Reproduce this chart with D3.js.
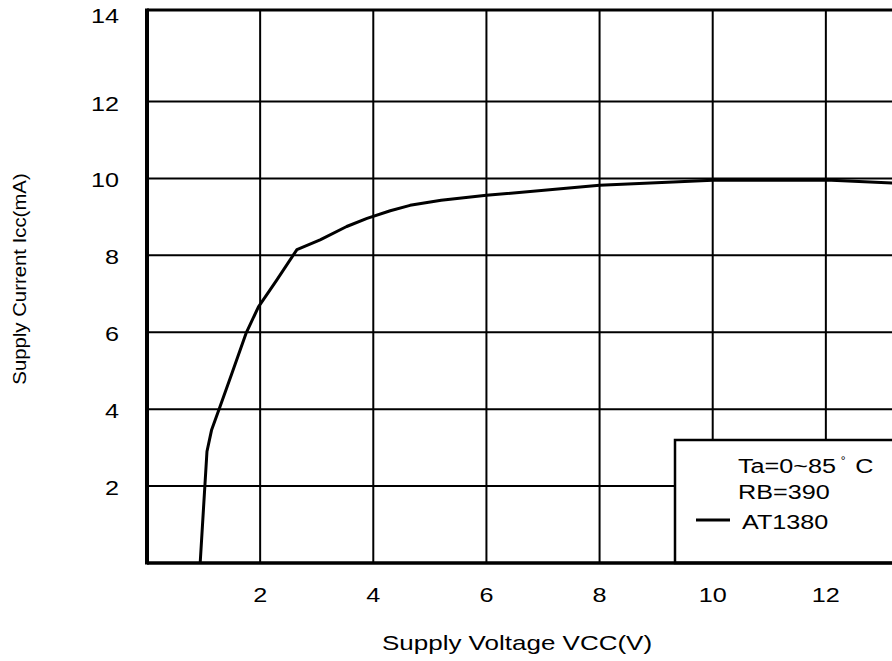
<!DOCTYPE html>
<html>
<head>
<meta charset="utf-8">
<script src="https://cdn.jsdelivr.net/npm/d3@7"></script>
<style>
  body { margin: 0; background: #fff; }
  text { font-family: Arial, "Liberation Sans", sans-serif; fill: #000; }
</style>
</head>
<body>
<script>
// values (AT1380, Ta=0~85 C, RB=390)
var voltage = [0.94, 1.06, 1.14, 1.29, 1.5, 1.75, 1.97, 2.29, 2.65, 3.06, 3.53, 3.89, 4.3, 4.65, 5.2, 6.0, 8.0, 10.0, 12.0, 13.2, 14.0];
var current = [0, 2.9, 3.45, 4.06, 4.93, 5.97, 6.66, 7.35, 8.15, 8.4, 8.75, 8.96, 9.16, 9.3, 9.43, 9.56, 9.82, 9.95, 9.96, 9.88, 9.82];
var xTicks = [2, 4, 6, 8, 10, 12];
var yTicks = [2, 4, 6, 8, 10, 12, 14];
var legendLines = ["Ta=0~85", "RB=390"];
var seriesName = "AT1380";

var svg = d3.select("body")
  .append("svg")
    .attr("width", 892)
    .attr("height", 661);

// the plot runs past the right edge of the picture, like the scan it comes from
var x = d3.scaleLinear().domain([0, 14]).range([147, 939]);
var y = d3.scaleLinear().domain([0, 14]).range([563, 24.6]);
var plotTop = 10;
var stretch = 1.2; // the source lettering is wider than Arial

// grid
svg.append("g")
  .selectAll("line")
    .data(xTicks)
  .enter().append("line")
    .attr("x1", function(d) { return x(d); })
    .attr("x2", function(d) { return x(d); })
    .attr("y1", plotTop)
    .attr("y2", y(0))
    .attr("stroke", "#000")
    .attr("stroke-width", 2);

svg.append("g")
  .selectAll("line")
    .data(yTicks.filter(function(d) { return d < 14; }))
  .enter().append("line")
    .attr("x1", x(0))
    .attr("x2", x(14))
    .attr("y1", function(d) { return y(d); })
    .attr("y2", function(d) { return y(d); })
    .attr("stroke", "#000")
    .attr("stroke-width", 2);

// frame
svg.append("line")
  .attr("x1", x(0)).attr("x2", x(14))
  .attr("y1", plotTop).attr("y2", plotTop)
  .attr("stroke", "#000").attr("stroke-width", 3);
svg.append("line")
  .attr("x1", x(0)).attr("x2", x(0))
  .attr("y1", plotTop - 1.5).attr("y2", y(0) + 1.5)
  .attr("stroke", "#000").attr("stroke-width", 4);

// legend box (drawn before the axis line so the axis sits on top)
svg.append("rect")
  .attr("x", 675)
  .attr("y", 440)
  .attr("width", 300)
  .attr("height", y(0) - 440)
  .attr("fill", "#fff")
  .attr("stroke", "#000")
  .attr("stroke-width", 2.5);

svg.append("line")
  .attr("x1", x(0)).attr("x2", x(14))
  .attr("y1", y(0)).attr("y2", y(0))
  .attr("stroke", "#000").attr("stroke-width", 3.5);

// curve
var pts = voltage.map(function(v, i) { return [v, current[i]]; });
var line = d3.line()
  .x(function(d) { return x(d[0]); })
  .y(function(d) { return y(d[1]); });

svg.append("path")
  .datum(pts)
  .attr("d", line)
  .attr("fill", "none")
  .attr("stroke", "#000")
  .attr("stroke-width", 3)
  .attr("stroke-linejoin", "round");

// tick labels
svg.append("g")
  .selectAll("text")
    .data(xTicks)
  .enter().append("text")
    .attr("transform", function(d) { return "translate(" + x(d) + ",601.5) scale(" + stretch + ",1)"; })
    .attr("text-anchor", "middle")
    .style("font-size", "21px")
    .text(function(d) { return d; });

svg.append("g")
  .selectAll("text")
    .data(yTicks)
  .enter().append("text")
    .attr("transform", function(d) {
      // the top label sits on the frame line, not on y(14)
      var by = d === 14 ? plotTop + 13 : y(d) + 9;
      return "translate(119," + by + ") scale(" + stretch + ",1)";
    })
    .attr("text-anchor", "end")
    .style("font-size", "21px")
    .text(function(d) { return d; });

// axis titles
svg.append("text")
  .attr("transform", "translate(517,650) scale(1.3,1)")
  .attr("text-anchor", "middle")
  .style("font-size", "20px")
  .text("Supply Voltage VCC(V)");

svg.append("text")
  .attr("transform", "translate(26,279) rotate(-90) scale(1.1,1)")
  .attr("text-anchor", "middle")
  .style("font-size", "18.5px")
  .text("Supply Current Icc(mA)");

// legend text
var t1 = svg.append("text")
  .attr("transform", "translate(738,473) scale(" + stretch + ",1)")
  .style("font-size", "21px");
t1.append("tspan").text(legendLines[0]);
t1.append("tspan").attr("dx", 4).attr("dy", -9).style("font-size", "10px").text("\u00b0");
t1.append("tspan").attr("dx", 8).attr("dy", 9).text("C");

svg.append("text")
  .attr("transform", "translate(738,499) scale(" + stretch + ",1)")
  .style("font-size", "21px")
  .text(legendLines[1]);

svg.append("line")
  .attr("x1", 696).attr("x2", 730)
  .attr("y1", 520).attr("y2", 520)
  .attr("stroke", "#000").attr("stroke-width", 3);

svg.append("text")
  .attr("transform", "translate(742,529) scale(" + stretch + ",1)")
  .style("font-size", "21px")
  .text(seriesName);
</script>
</body>
</html>
